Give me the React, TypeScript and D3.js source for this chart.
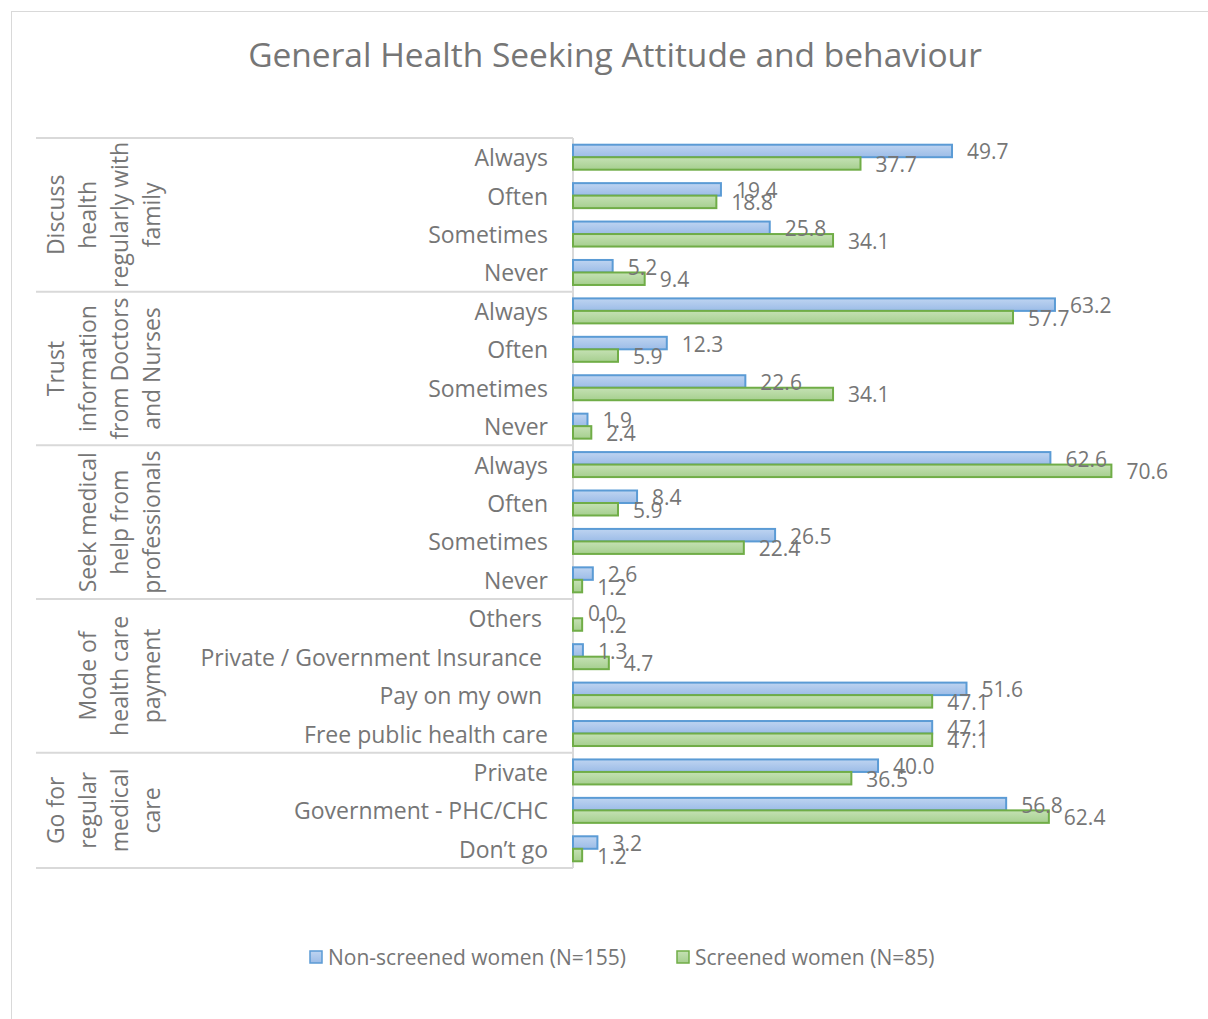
import React from "react";
import * as d3 from "d3";

const groups = [
  { name: ["Discuss", "health", "regularly with", "family"], size: 4 },
  { name: ["Trust", "information", "from Doctors", "and Nurses"], size: 4 },
  { name: ["Seek medical", "help from", "professionals"], size: 4 },
  { name: ["Mode of", "health care", "payment"], size: 4 },
  { name: ["Go for", "regular", "medical", "care"], size: 3 },
];

const categories = [
  "Always", "Often", "Sometimes", "Never",
  "Always", "Often", "Sometimes", "Never",
  "Always", "Often", "Sometimes", "Never",
  "Others", "Private / Government Insurance", "Pay on my own", "Free public health care",
  "Private", "Government - PHC/CHC", "Don\u2019t go",
];

// labels with trailing space in the original (shifted left)
const trailingSpace = [12, 13, 14];

const nonScreened = [49.7, 19.4, 25.8, 5.2, 63.2, 12.3, 22.6, 1.9, 62.6, 8.4, 26.5, 2.6, 0.0, 1.3, 51.6, 47.1, 40.0, 56.8, 3.2];
const screened = [37.7, 18.8, 34.1, 9.4, 57.7, 5.9, 34.1, 2.4, 70.6, 5.9, 22.4, 1.2, 1.2, 4.7, 47.1, 47.1, 36.5, 62.4, 1.2];

const seriesNames = ["Non-screened women (N=155)", "Screened women (N=85)"];

const W = 1208;
const H = 1019;
const FONT = "'Open Sans', sans-serif";
const TEXT = "#767676";
const GRID = "#d9d9d9";

export default function App() {
  const top = 138;
  const bottom = 868;
  const axisX = 573;
  const x = d3.scaleLinear().domain([0, 80]).range([axisX, axisX + 80 * 7.626]);
  const idx = categories.map((_, i) => i);
  const y = d3.scaleBand<number>().domain(idx).range([top, bottom]).padding(0);
  const inner = d3
    .scaleBand<string>()
    .domain(["ns", "s"])
    .range([0, y.bandwidth()])
    .paddingInner(0)
    .paddingOuter(0.537);

  const series = [
    { key: "ns", values: nonScreened, grad: "gBlue", stroke: "#5b9bd5" },
    { key: "s", values: screened, grad: "gGreen", stroke: "#70ad47" },
  ];

  // group boundaries
  let start = 0;
  const groupPos = groups.map((g) => {
    const s = start;
    start += g.size;
    return { ...g, y0: y(s)!, y1: s + g.size >= categories.length ? bottom : y(s + g.size)! };
  });

  const lineX = [55, 87, 119, 151];

  return (
    <svg
      width={W}
      height={H}
      style={{ position: "absolute", left: 0, top: 0, background: "#fff" }}
      fontFamily={FONT}
    >
      <defs>
        <linearGradient id="gBlue" x1="0" y1="0" x2="0" y2="1">
          <stop offset="0" stopColor="#bed4f1" />
          <stop offset="1" stopColor="#9cbce7" />
        </linearGradient>
        <linearGradient id="gGreen" x1="0" y1="0" x2="0" y2="1">
          <stop offset="0" stopColor="#c5e1b4" />
          <stop offset="1" stopColor="#a6cf8f" />
        </linearGradient>
      </defs>
      <rect x={0} y={0} width={W} height={H} fill="#fff" />
      <rect x={11.5} y={11.5} width={W + 10} height={H + 10} fill="none" stroke={GRID} strokeWidth={1} />

      <text x={615} y={67} textAnchor="middle" fontSize={33.5} fill={TEXT}>
        General Health Seeking Attitude and behaviour
      </text>

      {/* separators */}
      {groupPos.map((g, i) => (
        <line key={"t" + i} x1={36} x2={axisX} y1={g.y0} y2={g.y0} stroke={GRID} strokeWidth={2} />
      ))}
      <line x1={36} x2={axisX} y1={bottom} y2={bottom} stroke={GRID} strokeWidth={2} />
      <line x1={axisX} x2={axisX} y1={top} y2={bottom} stroke={GRID} strokeWidth={2} />

      {/* group labels */}
      {groupPos.map((g, i) => {
        const cy = (g.y0 + g.y1) / 2;
        const n = g.name.length;
        return g.name.map((line, j) => {
          const lx = lineX[4 - n + j];
          return (
            <text
              key={"g" + i + "-" + j}
              transform={`translate(${lx},${cy}) rotate(-90)`}
              textAnchor="middle"
              dominantBaseline="central"
              fontSize={23}
              fill={TEXT}
            >
              {line}
            </text>
          );
        });
      })}

      {/* category labels */}
      {categories.map((c, i) => (
        <text
          key={"c" + i}
          x={trailingSpace.includes(i) ? 542 : 548}
          y={y(i)! + y.bandwidth() / 2}
          textAnchor="end"
          dominantBaseline="central"
          fontSize={23}
          fill={TEXT}
        >
          {c}
        </text>
      ))}

      {/* bars */}
      {series.map((s) =>
        s.values.map((v, i) => {
          const by = y(i)! + inner(s.key)!;
          return (
            <rect
              key={s.key + i}
              x={x(0)}
              y={by}
              width={Math.max(0, x(v) - x(0))}
              height={inner.bandwidth()}
              fill={`url(#${s.grad})`}
              stroke={v > 0 ? s.stroke : "none"}
              strokeWidth={2}
            />
          );
        })
      )}

      {/* data labels */}
      {series.map((s) =>
        s.values.map((v, i) => {
          const by = y(i)! + inner(s.key)! + inner.bandwidth() / 2;
          return (
            <text
              key={"l" + s.key + i}
              x={x(v) + 15}
              y={by + 0.5}
              dominantBaseline="central"
              fontSize={21}
              fill={TEXT}
            >
              {v.toFixed(1)}
            </text>
          );
        })
      )}

      {/* legend */}
      {[
        { x: 310, tx: 328, name: seriesNames[0], grad: "gBlue", stroke: "#5b9bd5" },
        { x: 677, tx: 695, name: seriesNames[1], grad: "gGreen", stroke: "#70ad47" },
      ].map((l, i) => (
        <g key={"lg" + i}>
          <rect x={l.x} y={951} width={12} height={12} fill={`url(#${l.grad})`} stroke={l.stroke} strokeWidth={1.5} />
          <text x={l.tx} y={957} dominantBaseline="central" fontSize={21} fill={TEXT}>
            {l.name}
          </text>
        </g>
      ))}
    </svg>
  );
}
